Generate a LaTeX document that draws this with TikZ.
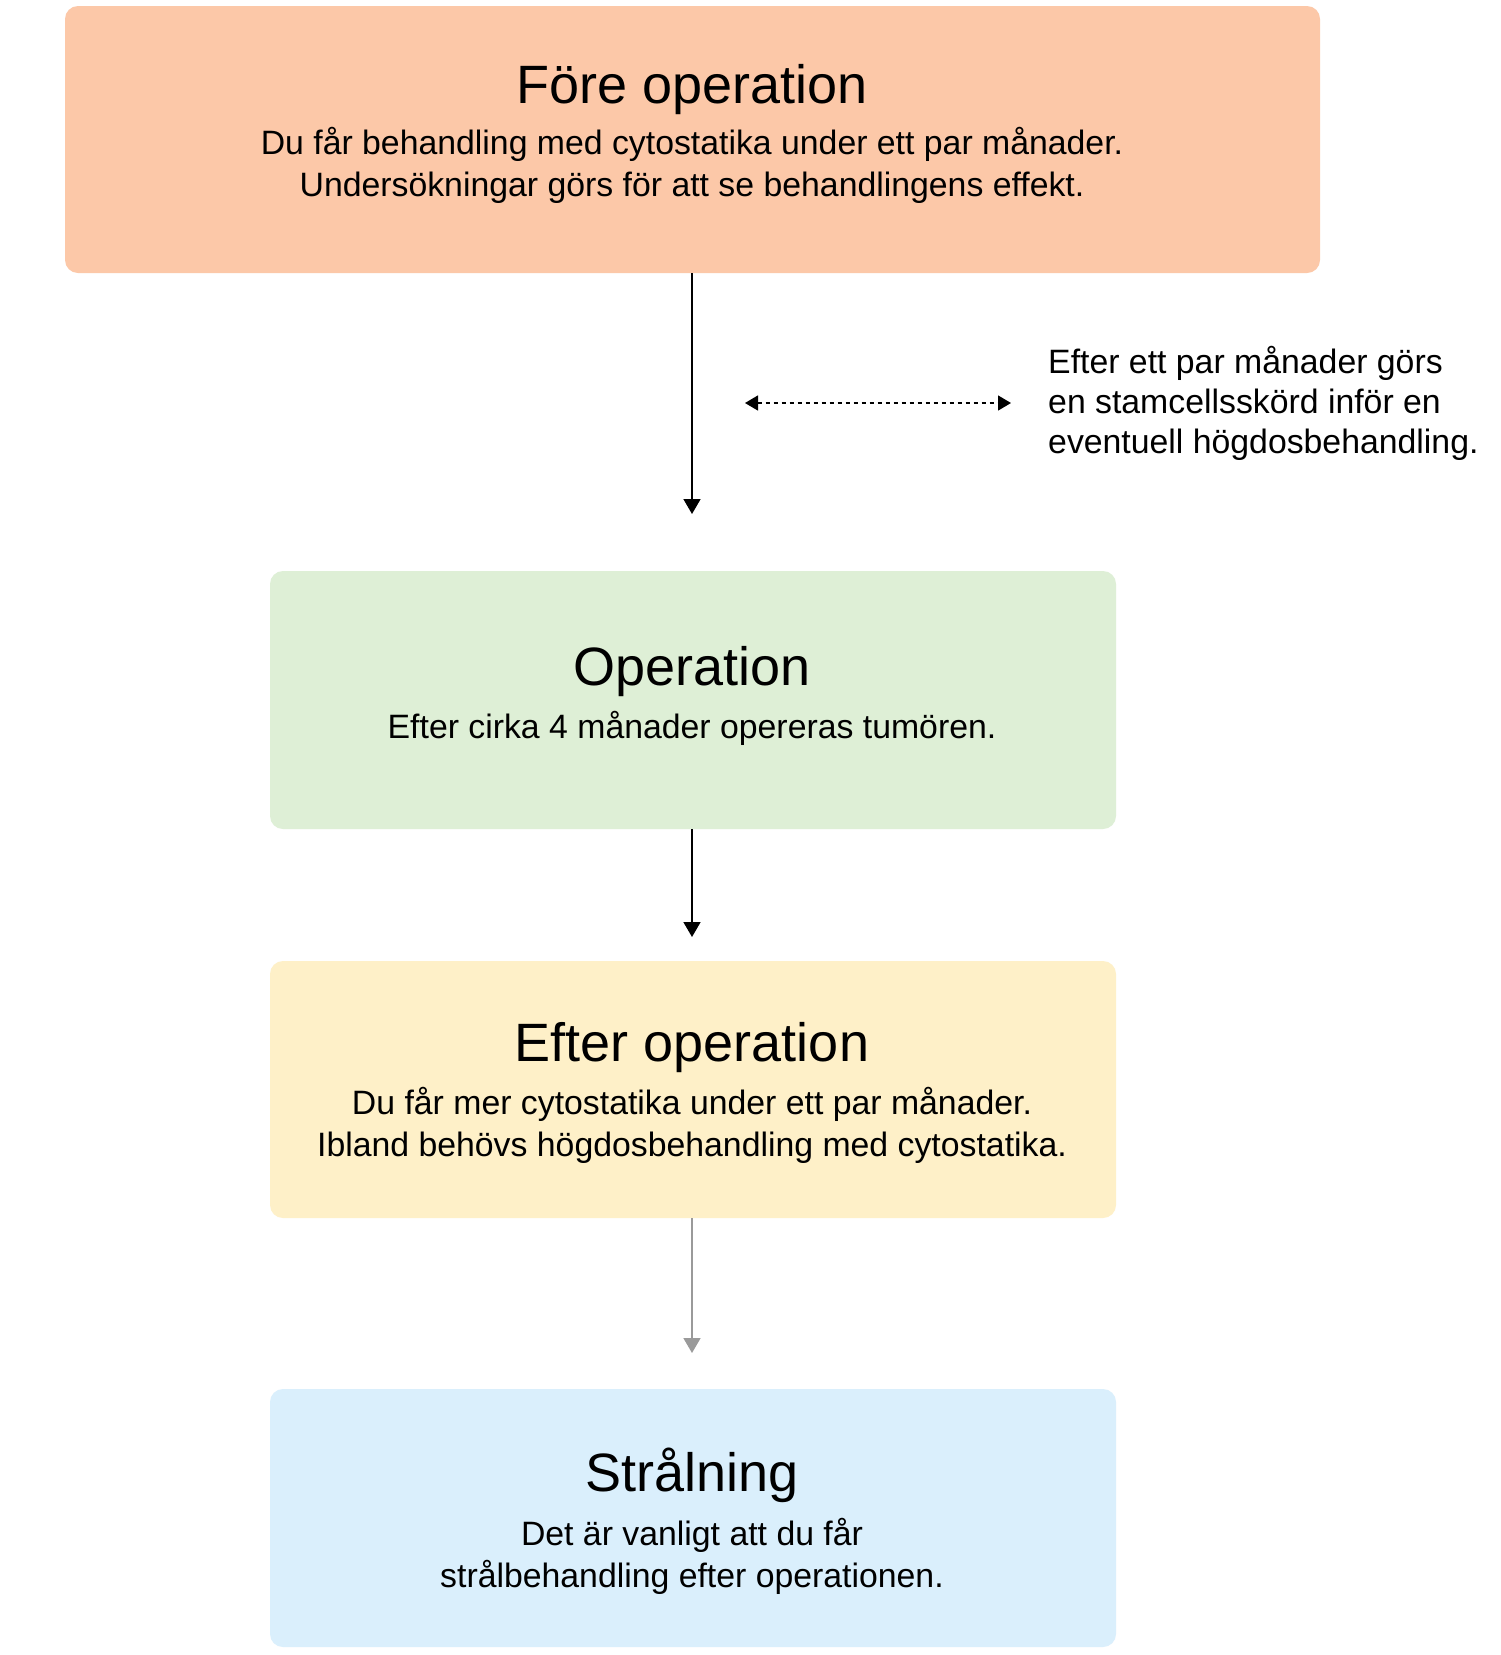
\documentclass[tikz,border=0pt]{standalone}
\usepackage{fontspec}
\setmainfont{Liberation Sans}
\usetikzlibrary{arrows.meta}
\definecolor{peach}{HTML}{FCC8A8}
\definecolor{mint}{HTML}{DEEFD6}
\definecolor{cream}{HTML}{FEF0C8}
\definecolor{sky}{HTML}{DAEFFC}
\definecolor{arrowgray}{HTML}{9A9A9A}
\begin{document}
\begin{tikzpicture}[x=1pt,y=-1pt,
  box/.style={rounded corners=13pt, inner sep=0pt, draw=none},
  ttl/.style={font=\fontsize{54}{64}\selectfont, inner sep=0pt, anchor=center},
  body/.style={font=\fontsize{33.8}{42}\selectfont, inner sep=0pt, align=center, anchor=center},
  flow/.style={line width=1.6pt, -{Triangle[width=17pt,length=15pt]}},
  both/.style={line width=1.4pt, dash pattern=on 4pt off 4pt, {Triangle[width=15pt,length=13pt]}-{Triangle[width=15pt,length=13pt]}}
]
\useasboundingbox (0,0) rectangle (1500,1655);
\fill[white] (0,0) rectangle (1500,1655);

% boxes
\node[box, fill=peach, minimum width=1255pt, minimum height=267pt] (b1) at (692.5,139.5) {};
\node[box, fill=mint,  minimum width=846pt,  minimum height=258pt] (b2) at (693,700) {};
\node[box, fill=cream, minimum width=846pt,  minimum height=257pt] (b3) at (693,1089.5) {};
\node[box, fill=sky,   minimum width=846pt,  minimum height=258pt] (b4) at (693,1518) {};

% texts
\node[ttl] (t1) at (692,90) {Före operation};
\node[body] (d1) at (692,165) {Du får behandling med cytostatika under ett par månader.\\Undersökningar görs för att se behandlingens effekt.};

\node[ttl] (t2) at (692,672) {Operation};
\node[body] (d2) at (692,728) {Efter cirka 4 månader opereras tumören.};

\node[ttl] (t3) at (692,1048) {Efter operation};
\node[body] (d3) at (692,1125) {Du får mer cytostatika under ett par månader.\\Ibland behövs högdosbehandling med cytostatika.};

\node[ttl] (t4) at (692,1475) {Strålning};
\node[body] (d4) at (692,1556) {Det är vanligt att du får\\strålbehandling efter operationen.};

\node[font=\fontsize{33.8}{40}\selectfont, inner sep=0pt, align=left, anchor=west] (side) at (1048,403)
  {Efter ett par månader görs\\en stamcellsskörd inför en\\eventuell högdosbehandling.};

% connectors
\coordinate (a1) at (692,514);
\coordinate (a2) at (692,937);
\coordinate (a3) at (692,1353);
\coordinate (dl) at (745,403);
\coordinate (dr) at (1011,403);

\draw[flow] (b1.south -| a1) -- (a1);
\draw[flow] (b2.south -| a2) -- (a2);
\draw[flow, draw=arrowgray, fill=arrowgray] (b3.south -| a3) -- (a3);
\draw[both] (dl) -- (dr);
\end{tikzpicture}
\end{document}
